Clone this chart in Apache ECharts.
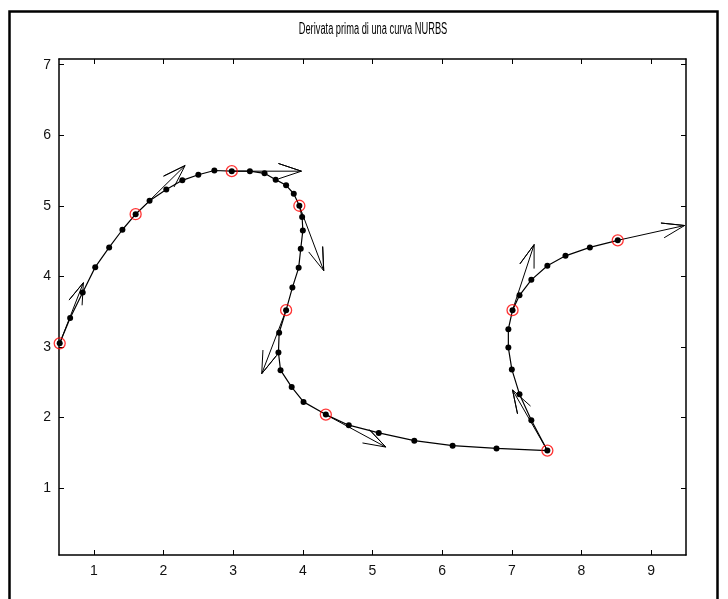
<!DOCTYPE html>
<html>
<head>
<meta charset="utf-8">
<script src="https://cdn.jsdelivr.net/npm/echarts@6/dist/echarts.min.js"></script>
<style>
html,body{margin:0;padding:0;background:#fff;}
#chart{width:728px;height:599px;}
</style>
</head>
<body>
<div id="chart"></div>
<script>
// ---- data ----
var titleText = 'Derivata prima di una curva NURBS';
var xTicks = [1, 2, 3, 4, 5, 6, 7, 8, 9];
var yTicks = [1, 2, 3, 4, 5, 6, 7];

// sampled curve points
var curveX = [0.51, 0.66, 0.84, 1.02, 1.22, 1.41, 1.60, 1.80, 2.04, 2.27, 2.50, 2.73, 2.98,
  3.24, 3.45, 3.61, 3.76, 3.87, 3.95, 3.99, 4.00, 3.97, 3.94, 3.85, 3.76,
  3.66, 3.65, 3.68, 3.84, 4.01, 4.33, 4.66, 5.09, 5.60, 6.15, 6.78, 7.51,
  7.28, 7.11, 7.00, 6.95, 6.95, 7.01, 7.11, 7.28, 7.51, 7.77, 8.12, 8.52];
var curveY = [3.05, 3.41, 3.77, 4.13, 4.41, 4.66, 4.88, 5.07, 5.23, 5.36, 5.44, 5.50, 5.49,
  5.49, 5.46, 5.37, 5.29, 5.17, 5.00, 4.84, 4.65, 4.39, 4.12, 3.84, 3.52,
  3.20, 2.92, 2.67, 2.43, 2.22, 2.04, 1.89, 1.78, 1.67, 1.60, 1.56, 1.53,
  1.96, 2.33, 2.68, 2.99, 3.25, 3.52, 3.73, 3.95, 4.15, 4.29, 4.41, 4.51];

// highlighted points (red circles), also the arrow bases
var knotX = [0.51, 1.60, 2.98, 3.95, 3.76, 4.33, 7.51, 7.01, 8.52];
var knotY = [3.05, 4.88, 5.49, 5.00, 3.52, 2.04, 1.53, 3.52, 4.51];

// first derivative vectors at those points
var derivU = [0.34, 0.71, 1.00, 0.35, -0.35, 0.86, -0.50, 0.31, 0.96];
var derivV = [0.86, 0.69, 0.00, -0.92, -0.90, -0.46, 0.86, 0.93, 0.21];

// axis limits
var xMin = 0.5, xMax = 9.5, yMin = 0.05, yMax = 7.08;

// ---- build ----
var curveData = curveX.map(function (x, i) { return [x, curveY[i]]; });
var knotData = knotX.map(function (x, i) { return [x, knotY[i]]; });

var alpha = 0.33, beta = 0.33; // quiver arrowhead proportions
var arrowSeries = knotX.map(function (x, i) {
  var y = knotY[i], u = derivU[i], v = derivV[i];
  var tip = [x + u, y + v];
  var b1 = [x + u - alpha * (u + beta * v), y + v - alpha * (v - beta * u)];
  var b2 = [x + u - alpha * (u - beta * v), y + v - alpha * (v + beta * u)];
  return {
    type: 'line',
    data: [[x, y], tip, b1, tip, b2],
    showSymbol: false,
    symbol: 'none',
    lineStyle: { color: '#000', width: 1 },
    silent: true,
    z: 3
  };
});

var fontFam = 'Liberation Sans, Arial, sans-serif';
var axisCommon = {
  axisLine: { show: true, lineStyle: { color: '#000', width: 1.5 } },
  splitLine: { show: false }
};
function tickStyle(vals) {
  return { show: true, inside: true, length: 5, customValues: vals, lineStyle: { color: '#000', width: 1 } };
}

var chart = echarts.init(document.getElementById('chart'));
chart.setOption({
  animation: false,
  backgroundColor: '#fff',
  graphic: [{
    type: 'rect',
    shape: { x: 9.5, y: 11.5, width: 708, height: 620 },
    style: { fill: null, stroke: '#000', lineWidth: 2.5 },
    silent: true
  }, {
    type: 'text',
    x: 373,
    y: 30,
    scaleX: 0.58,
    style: {
      text: titleText,
      fontFamily: fontFam,
      fontSize: 16,
      fill: '#000',
      align: 'center',
      verticalAlign: 'middle'
    },
    silent: true
  }],
  grid: { left: 59, top: 59, width: 627, height: 496 },
  xAxis: [
    Object.assign({
      type: 'value', min: xMin, max: xMax, position: 'bottom',
      axisTick: tickStyle(xTicks),
      axisLabel: { show: true, customValues: xTicks, margin: 9, color: '#111',
        fontFamily: fontFam, fontSize: 14 }
    }, axisCommon),
    Object.assign({
      type: 'value', min: xMin, max: xMax, position: 'top',
      axisTick: tickStyle(xTicks),
      axisLabel: { show: false }
    }, axisCommon)
  ],
  yAxis: [
    Object.assign({
      type: 'value', min: yMin, max: yMax, position: 'left',
      axisTick: tickStyle(yTicks),
      axisLabel: { show: true, customValues: yTicks, margin: 8, color: '#111',
        fontFamily: fontFam, fontSize: 14 }
    }, axisCommon),
    Object.assign({
      type: 'value', min: yMin, max: yMax, position: 'right',
      axisTick: tickStyle(yTicks),
      axisLabel: { show: false }
    }, axisCommon)
  ],
  series: [{
    type: 'line',
    data: curveData,
    symbol: 'circle',
    symbolSize: 6,
    showSymbol: true,
    itemStyle: { color: '#000' },
    lineStyle: { color: '#000', width: 1.2 },
    silent: true,
    z: 2
  }].concat(arrowSeries).concat([{
    type: 'scatter',
    data: knotData,
    symbol: 'circle',
    symbolSize: 11,
    itemStyle: { color: 'rgba(0,0,0,0)', borderColor: '#ff0000', borderWidth: 1.3 },
    silent: true,
    z: 4
  }])
});
</script>
</body>
</html>
